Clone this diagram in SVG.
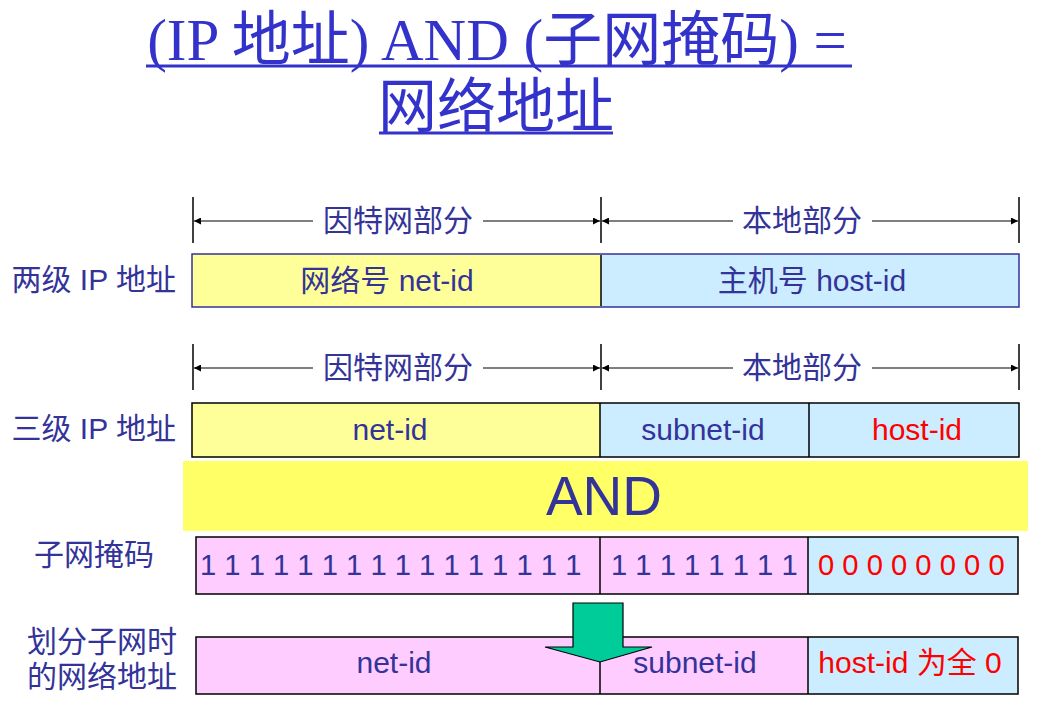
<svg xmlns="http://www.w3.org/2000/svg" width="1037" height="705" viewBox="0 0 1037 705">
<defs>
<marker id="ah" viewBox="0 0 10 10" refX="10" refY="5" markerWidth="10" markerHeight="7" markerUnits="userSpaceOnUse" orient="auto-start-reverse">
<path d="M0,0 L10,5 L0,10 z" fill="#000"/>
</marker>
<style>
.t{font-family:"Liberation Sans","Noto Sans CJK SC",sans-serif;font-size:30px;fill:#333399}
.d{font-family:"Liberation Sans","Noto Sans CJK SC",sans-serif;font-size:29.2px;fill:#333399}
.r{fill:#ff0000}
.ttl{font-family:"Liberation Serif","Noto Sans CJK SC",serif;font-size:59px;fill:#3333cc}
.dim{stroke:#000;stroke-width:1.2;fill:none}
.tick{stroke:#000;stroke-width:1.5}
.ln{stroke:#000;stroke-width:1.5}
.y{fill:#ffff99}
.b{fill:#ccecff}
.p{fill:#ffccff}
</style>
</defs>
<rect width="1037" height="705" fill="#fff"/>

<g id="title">
<text class="ttl" x="497" y="60" text-anchor="middle">(IP 地址) AND (子网掩码) =</text>
<line x1="146" y1="66" x2="852" y2="66" stroke="#3333cc" stroke-width="3"/>
<text class="ttl" x="496" y="127" text-anchor="middle">网络地址</text>
<line x1="379" y1="133" x2="613" y2="133" stroke="#3333cc" stroke-width="3"/>
</g>

<g id="labels">
<text class="t" x="176" y="290" text-anchor="end">两级 IP 地址</text>
<text class="t" x="176" y="439" text-anchor="end">三级 IP 地址</text>
<text class="t" x="34" y="565">子网掩码</text>
<text class="t" x="177" y="652" text-anchor="end">划分子网时</text>
<text class="t" x="177" y="687" text-anchor="end">的网络地址</text>
</g>

<g id="connectors">
<line class="tick" x1="193" y1="197" x2="193" y2="243"/>
<line class="tick" x1="601" y1="197" x2="601" y2="243"/>
<line class="tick" x1="1019" y1="197" x2="1019" y2="243"/>
<line class="dim" x1="313" y1="221" x2="194" y2="221" marker-end="url(#ah)"/>
<line class="dim" x1="483" y1="221" x2="600" y2="221" marker-end="url(#ah)"/>
<line class="dim" x1="733" y1="221" x2="602" y2="221" marker-end="url(#ah)"/>
<line class="dim" x1="872" y1="221" x2="1018" y2="221" marker-end="url(#ah)"/>

<line class="tick" x1="193" y1="344" x2="193" y2="390"/>
<line class="tick" x1="601" y1="344" x2="601" y2="390"/>
<line class="tick" x1="1019" y1="344" x2="1019" y2="390"/>
<line class="dim" x1="313" y1="368" x2="194" y2="368" marker-end="url(#ah)"/>
<line class="dim" x1="483" y1="368" x2="600" y2="368" marker-end="url(#ah)"/>
<line class="dim" x1="733" y1="368" x2="602" y2="368" marker-end="url(#ah)"/>
<line class="dim" x1="872" y1="368" x2="1018" y2="368" marker-end="url(#ah)"/>
</g>

<g id="dimlabels">
<text class="t" x="398" y="231" text-anchor="middle">因特网部分</text>
<text class="t" x="802" y="231" text-anchor="middle">本地部分</text>
<text class="t" x="398" y="378" text-anchor="middle">因特网部分</text>
<text class="t" x="802" y="378" text-anchor="middle">本地部分</text>
</g>

<g id="row1">
<rect class="y" x="192" y="254" width="409" height="53"/>
<rect class="b" x="601" y="254" width="418" height="53"/>
<rect x="192" y="254" width="827" height="53" fill="none" stroke="#333399" stroke-width="1.5"/>
<line class="ln" x1="601" y1="255" x2="601" y2="306"/>
<text class="t" x="387" y="291" text-anchor="middle">网络号 net-id</text>
<text class="t" x="812" y="291" text-anchor="middle">主机号 host-id</text>
</g>

<g id="row2">
<rect class="y" x="192" y="403" width="408" height="54"/>
<rect class="b" x="600" y="403" width="209" height="54"/>
<rect class="b" x="809" y="403" width="210" height="54"/>
<rect x="192" y="403" width="827" height="54" fill="none" stroke="#000" stroke-width="1.5"/>
<line class="ln" x1="600" y1="403" x2="600" y2="457"/>
<line class="ln" x1="809" y1="403" x2="809" y2="457"/>
<text class="t" x="390" y="440" text-anchor="middle">net-id</text>
<text class="t" x="703" y="440" text-anchor="middle">subnet-id</text>
<text class="t r" x="917" y="440" text-anchor="middle">host-id</text>
</g>

<g id="and">
<rect x="183" y="461" width="845" height="70" fill="#ffff66"/>
<text class="t" x="604" y="515" text-anchor="middle" style="font-size:55px">AND</text>
</g>

<g id="mask">
<rect class="p" x="196" y="537" width="404" height="57"/>
<rect class="p" x="600" y="537" width="208" height="57"/>
<rect class="b" x="808" y="537" width="210" height="57"/>
<rect x="196" y="537" width="822" height="57" fill="none" stroke="#000" stroke-width="1.5"/>
<line class="ln" x1="600" y1="537" x2="600" y2="594"/>
<line class="ln" x1="808" y1="537" x2="808" y2="594"/>
<text class="d" x="200" y="575">1 1 1 1 1 1 1 1 1 1 1 1 1 1 1 1</text>
<text class="d" x="611" y="575">1 1 1 1 1 1 1 1</text>
<text class="d r" x="818" y="575">0 0 0 0 0 0 0 0</text>
</g>

<g id="result">
<rect class="p" x="196" y="637" width="404" height="57"/>
<rect class="p" x="600" y="637" width="208" height="57"/>
<rect class="b" x="808" y="637" width="210" height="57"/>
<rect x="196" y="637" width="822" height="57" fill="none" stroke="#000" stroke-width="1.5"/>
<line class="ln" x1="600" y1="637" x2="600" y2="694"/>
<line class="ln" x1="808" y1="637" x2="808" y2="694"/>
<text class="t" x="394" y="673" text-anchor="middle">net-id</text>
<text class="t" x="695" y="673" text-anchor="middle">subnet-id</text>
<text class="t r" x="910" y="673" text-anchor="middle">host-id 为全 0</text>
</g>

<g id="arrow">
<polygon points="573,603 623,603 623,647 652,647 600,662 545,647 573,647" fill="#00cc99" stroke="#000" stroke-width="1.2"/>
</g>
</svg>
